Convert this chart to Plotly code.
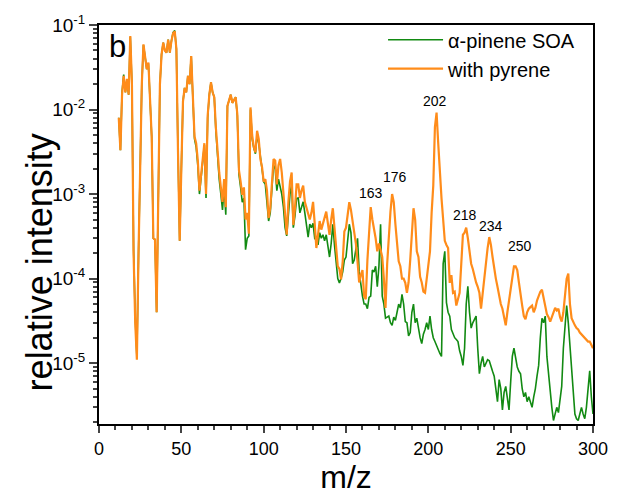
import plotly.graph_objects as go

mz = list(range(12, 301))

# alpha-pinene SOA (green), m/z 12..300
apinene = [
    8e-3, 3.3e-3, 1.6e-2, 2.6e-2, 1.6e-2, 2.2e-2, 1.5e-2, 7.2e-2, 2e-2, 2.2e-4,          # 12-21
    3.5e-5, 1.2e-5, 2e-4, 3e-3, 2e-2, 5.8e-2, 4e-2, 3e-2, 3.5e-2, 1.5e-2,                # 22-31
    4.8e-3, 3e-4, 2.9e-4, 4e-5, 2e-3, 2e-2, 4.5e-2, 6.2e-2, 5e-2, 4.7e-2,                # 32-41
    6.7e-2, 4.7e-2, 6.5e-2, 8.2e-2, 8.6e-2, 5.2e-2, 3e-3, 2.8e-4, 2e-3, 1.25e-2,         # 42-51
    1.8e-2, 1.6e-2, 2.5e-2, 2e-2, 4.3e-2, 1.5e-2, 4.5e-3, 3.6e-3, 2.2e-3, 1.0e-3,        # 52-61
    1.5e-3, 2.3e-3, 3.8e-3, 9e-4, 8e-3, 1.5e-2, 2.1e-2, 1.6e-2, 1.4e-2, 5.5e-3,          # 62-71
    2.6e-3, 1.5e-3, 1e-3, 6.5e-4, 1.2e-3, 5.7e-4, 1.1e-2, 1.3e-2, 1.5e-2, 1.2e-2,        # 72-81
    1.3e-2, 1.4e-2, 8.5e-3, 1.7e-3, 1.2e-3, 8e-4, 9e-4, 2.2e-4, 3e-4, 3.2e-4,            # 82-91
    1.0e-2, 4.5e-3, 3.5e-3, 3e-3, 5e-3, 4e-3, 2.8e-3, 2e-3, 1.4e-3, 1.3e-3,              # 92-101
    8e-4, 4.8e-4, 6e-4, 1.3e-3, 2.2e-3, 2e-3, 1.1e-3, 1.5e-3, 1.26e-3, 1e-3,             # 102-111
    7e-4, 4e-4, 3.2e-4, 6e-4, 1e-3, 1.3e-3, 4e-4, 5.5e-4, 8.9e-4, 9e-4,                  # 112-121
    6e-4, 7e-4, 8.1e-4, 6e-4, 4.5e-4, 3.1e-4, 4.4e-4, 4e-4, 4.5e-4, 3e-4,                # 122-131
    3.1e-4, 2.5e-4, 3.5e-4, 3e-4, 3.3e-4, 2.8e-4, 3.3e-4, 2.5e-4, 1.8e-4, 2.6e-4,        # 132-141
    4.4e-4, 2.5e-4, 1.5e-4, 1e-4, 8.9e-5, 1e-4, 1.2e-4, 1.66e-4, 1.8e-4, 3e-4,           # 142-151
    4.4e-4, 3.5e-4, 1.5e-4, 1.66e-4, 2.2e-4, 3e-4, 1.2e-4, 8e-5, 6.2e-5, 5e-5,           # 152-161
    5e-5, 4.4e-5, 6e-5, 6.2e-5, 1.26e-4, 1.2e-4, 1.4e-4, 8e-5, 1.4e-4, 4.4e-4,           # 162-171
    6.2e-5, 5e-5, 3.4e-5, 3.5e-5, 3.6e-5, 3e-5, 2.8e-5, 3.5e-5, 3.2e-5, 4e-5,            # 172-181
    5e-5, 4.5e-5, 6.5e-5, 5e-5, 3.1e-5, 3e-5, 2.1e-5, 2.3e-5, 4e-5, 5e-5,                # 182-191
    3e-5, 3.4e-5, 2.5e-5, 2e-5, 1.7e-5, 2.2e-5, 2.5e-5, 3e-5, 2.5e-5, 3.6e-5,            # 192-201
    2.5e-5, 2e-5, 1.8e-5, 1.6e-5, 1.4e-5, 1.3e-5, 1.2e-5, 1.5e-4, 2.1e-4, 5.2e-5,        # 202-211
    4e-5, 3.6e-5, 2.5e-5, 2.2e-5, 2e-5, 1.9e-5, 1.8e-5, 1.4e-5, 1.2e-5, 9.4e-6,          # 212-221
    1.5e-5, 5e-5, 8.1e-5, 4e-5, 2.6e-5, 3e-5, 3.3e-5, 3.6e-5, 1.5e-5, 7.5e-6,            # 222-231
    1e-5, 1.2e-5, 9e-6, 1e-5, 1.1e-5, 1.07e-5, 9e-6, 8e-6, 7e-6, 5e-6,                   # 232-241
    3.5e-6, 6.4e-6, 5e-6, 2.8e-6, 4.5e-6, 5.3e-6, 4e-6, 2.8e-6, 6e-6, 1.2e-5,            # 242-251
    1.5e-5, 1.2e-5, 9e-6, 8e-6, 7.5e-6, 5e-6, 4e-6, 4.5e-6, 3.5e-6, 4e-6,                # 252-261
    3.5e-6, 3e-6, 4e-6, 5e-6, 7e-6, 9.4e-6, 2e-5, 3.4e-5, 3e-5, 3.6e-5,                  # 262-271
    1.2e-5, 7.5e-6, 4e-6, 3e-6, 2.1e-6, 2.5e-6, 3e-6, 2.6e-6, 3.5e-6, 5.3e-6,            # 272-281
    1.5e-5, 3e-5, 4.8e-5, 3e-5, 1.66e-5, 8e-6, 4e-6, 2.5e-6, 2.2e-6, 2.1e-6,             # 282-291
    2.5e-6, 3e-6, 2.5e-6, 2.2e-6, 3e-6, 5e-6, 8.1e-6, 4e-6, 2.5e-6,                      # 292-300
]

# with pyrene (orange), m/z 12..300
pyrene = [
    8e-3, 3.3e-3, 1.5e-2, 2.5e-2, 1.6e-2, 2.3e-2, 1.5e-2, 7.4e-2, 2e-2, 2e-4,            # 12-21
    3e-5, 1.1e-5, 2e-4, 3e-3, 2e-2, 5.9e-2, 4e-2, 3e-2, 3.6e-2, 1.5e-2,                  # 22-31
    4.8e-3, 3e-4, 2.9e-4, 4e-5, 2e-3, 2e-2, 4.5e-2, 6.2e-2, 5e-2, 4.7e-2,                # 32-41
    6.7e-2, 4.7e-2, 6.5e-2, 8e-2, 8.4e-2, 5.2e-2, 3e-3, 2.8e-4, 2e-3, 1.25e-2,           # 42-51
    1.8e-2, 1.6e-2, 2.5e-2, 2e-2, 4.3e-2, 1.5e-2, 4.8e-3, 4e-3, 2.5e-3, 1.1e-3,          # 52-61
    1.6e-3, 2.5e-3, 4e-3, 1e-3, 8.5e-3, 1.5e-2, 2.1e-2, 1.6e-2, 1.4e-2, 6e-3,            # 62-71
    3e-3, 1.8e-3, 1.2e-3, 8.1e-4, 1.5e-3, 7e-4, 1.1e-2, 1.3e-2, 1.5e-2, 1.2e-2,          # 72-81
    1.3e-2, 1.4e-2, 8.8e-3, 1.9e-3, 1.4e-3, 9.8e-4, 1.2e-3, 5e-4, 6e-4, 3.4e-4,          # 82-91
    1.06e-2, 5e-3, 3.6e-3, 3.1e-3, 5.6e-3, 4.5e-3, 2.6e-3, 2.1e-3, 1.4e-3, 1.5e-3,       # 92-101
    1.1e-3, 5.2e-4, 6.8e-4, 1.5e-3, 2.6e-3, 2.5e-3, 1.3e-3, 2.2e-3, 2.6e-3, 1.8e-3,      # 102-111
    1.05e-3, 5e-4, 3.3e-4, 8e-4, 1.4e-3, 1.8e-3, 4.3e-4, 6.8e-4, 1.3e-3, 1.3e-3,         # 112-121
    9e-4, 1.1e-3, 1.26e-3, 8.1e-4, 6.8e-4, 5.5e-4, 5e-4, 6e-4, 8.1e-4, 4.5e-4,          # 122-131
    2.3e-4, 3.3e-4, 4.8e-4, 3.8e-4, 4.5e-4, 5e-4, 6.2e-4, 4.5e-4, 3.3e-4, 5e-4,          # 132-141
    6.8e-4, 4e-4, 2.3e-4, 1.4e-4, 1.3e-4, 9.8e-5, 1.6e-4, 3.6e-4, 4e-4, 6e-4,            # 142-151
    8e-4, 6.5e-4, 4.8e-4, 3.5e-4, 2.6e-4, 1.6e-4, 9e-5, 1.1e-4, 1.26e-4, 6.2e-5,         # 152-161
    5.7e-5, 1.66e-4, 3.5e-4, 7e-4, 5e-4, 4e-4, 3e-4, 2.1e-4, 2.6e-4, 2.2e-4,             # 162-171
    1.8e-4, 1e-4, 4.5e-5, 1.5e-4, 3.6e-4, 6.2e-4, 1.0e-3, 8e-4, 4.4e-4, 2.5e-4,          # 172-181
    1.6e-4, 1.4e-4, 1e-4, 1e-4, 8.9e-5, 6.8e-5, 9e-5, 1.66e-4, 3.5e-4, 6.8e-4,           # 182-191
    5e-4, 2.1e-4, 1.8e-4, 1.05e-4, 9e-5, 7e-5, 6.8e-5, 1e-4, 1.5e-4, 2.1e-4,             # 192-201
    6e-4, 1.26e-3, 6.2e-3, 9.2e-3, 4e-3, 1.66e-3, 8.9e-4, 5e-4, 2.8e-4, 2.5e-4,          # 202-211
    2.3e-4, 8.9e-5, 1.1e-4, 6.8e-5, 7e-5, 4.8e-5, 6e-5, 6.8e-5, 1.5e-4, 3.3e-4,          # 212-221
    3.5e-4, 4e-4, 3e-4, 2.1e-4, 1.5e-4, 1.3e-4, 1.05e-4, 9e-5, 8e-5, 6.8e-5,             # 222-231
    4.4e-5, 7e-5, 1.05e-4, 1.5e-4, 2.3e-4, 3.1e-4, 2.5e-4, 1.8e-4, 1.3e-4, 1e-4,         # 232-241
    8e-5, 6.2e-5, 5e-5, 4.4e-5, 3.5e-5, 2.8e-5, 4e-5, 5.5e-5, 7.4e-5, 1.1e-4,            # 242-251
    1.4e-4, 1.4e-4, 1.26e-4, 9e-5, 6.2e-5, 4.8e-5, 3.6e-5, 3.3e-5, 4e-5, 4.4e-5,         # 252-261
    4.6e-5, 4.8e-5, 4e-5, 4.5e-5, 5.5e-5, 6.2e-5, 7e-5, 7.4e-5, 6e-5, 4.8e-5,            # 262-271
    3.8e-5, 3.5e-5, 3.1e-5, 3.5e-5, 4e-5, 4.5e-5, 4.2e-5, 4.4e-5, 3.5e-5, 3.1e-5,        # 272-281
    4e-5, 6e-5, 1e-4, 1.15e-4, 5e-5, 3.4e-5, 3e-5, 2.8e-5, 2.6e-5, 2.5e-5,               # 282-291
    2.3e-5, 2.2e-5, 2.1e-5, 2.0e-5, 1.9e-5, 1.8e-5, 1.8e-5, 1.6e-5, 1.5e-5,              # 292-300
]

# peak labels: text, x position, y position (log10)
peak_labels = ["163", "176", "202", "218", "234", "250"]
peak_x = [165, 179.5, 203.8, 222.5, 238.2, 255.4]
peak_logy = [-2.985, -2.80, -1.90, -3.245, -3.38, -3.62]

ytick_vals = [1e-5, 1e-4, 1e-3, 1e-2, 1e-1]
ytick_text = ["10<sup>-5</sup>", "10<sup>-4</sup>", "10<sup>-3</sup>", "10<sup>-2</sup>", "10<sup>-1</sup>"]
xtick_vals = [0, 50, 100, 150, 200, 250, 300]

GREEN = "#128a12"
ORANGE = "#ff8c1a"
FONT = "Arial, Liberation Sans, sans-serif"

fig = go.Figure()
fig.add_trace(go.Scatter(x=mz, y=apinene, mode="lines", name="\u03b1-pinene SOA",
                         line=dict(color=GREEN, width=1.6)))
fig.add_trace(go.Scatter(x=mz, y=pyrene, mode="lines", name="with pyrene",
                         line=dict(color=ORANGE, width=2.2)))

for t, x, ly in zip(peak_labels, peak_x, peak_logy):
    fig.add_annotation(x=x, y=ly, text=t, showarrow=False, xanchor="center", yanchor="middle",
                       font=dict(size=14, color="black", family=FONT))

fig.add_annotation(x=0.038, y=0.945, xref="paper", yref="paper", text="b",
                   xanchor="center", yanchor="middle",
                   showarrow=False, font=dict(size=31, color="black", family=FONT))

# y-axis title
fig.add_annotation(x=-0.1215, y=0.405, xref="paper", yref="paper", text="relative intensity",
                   textangle=-90, xanchor="center", yanchor="middle",
                   showarrow=False, font=dict(size=36, color="black", family=FONT))

minor_y = [k * 10.0 ** e for e in range(-6, -1) for k in range(2, 10)]

fig.update_layout(
    width=621, height=495,
    margin=dict(l=99, r=28, t=18, b=67),
    plot_bgcolor="white", paper_bgcolor="white",
    font=dict(family=FONT, color="black"),
    showlegend=True,
    legend=dict(x=0.575, y=1.012, xanchor="left", yanchor="top",
                bgcolor="rgba(0,0,0,0)", font=dict(size=20, family=FONT),
                itemwidth=55, tracegroupgap=0),
    xaxis=dict(range=[0, 300], tickmode="array", tickvals=xtick_vals,
               ticks="outside", ticklen=7, tickwidth=2, linewidth=2, linecolor="black",
               mirror=True, showgrid=False, zeroline=False,
               tickfont=dict(size=18, family=FONT),
               minor=dict(ticks="outside", dtick=10, tick0=0, ticklen=4, tickwidth=2, showgrid=False),
               title=dict(text="m/z", font=dict(size=32, family=FONT), standoff=2)),
    yaxis=dict(type="log", range=[-5.72, -1], tickmode="array", tickvals=ytick_vals,
               ticktext=ytick_text, ticks="outside", ticklen=8, tickwidth=2,
               linewidth=2, linecolor="black", mirror=True, showgrid=False, zeroline=False,
               tickfont=dict(size=19, family=FONT),
               minor=dict(tickmode="array", tickvals=minor_y, ticks="outside",
                          ticklen=4, tickwidth=1.5, showgrid=False)),
)

fig.write_html("out.html")
